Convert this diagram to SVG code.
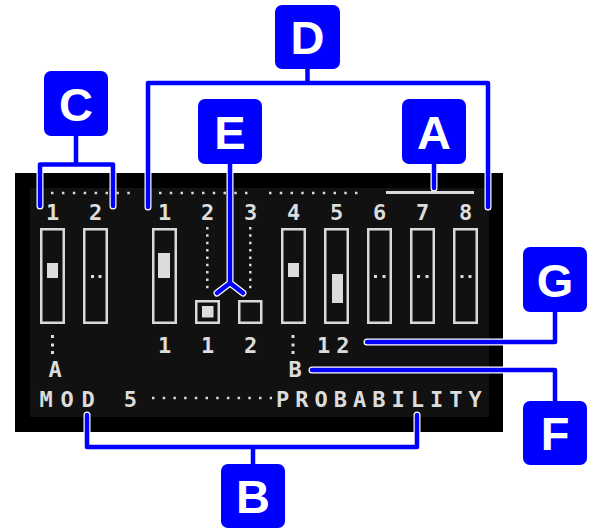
<svg xmlns="http://www.w3.org/2000/svg" width="589" height="529" viewBox="0 0 589 529">
<style>
.txt{fill:#dcdcdc;font-family:"DejaVu Sans Mono","Liberation Mono",monospace;font-weight:bold;font-size:22px}
.mid{text-anchor:middle}
.sl{fill:none;stroke:#d9d9d9;stroke-width:2.5}
.fill{fill:#dcdcdc}
.dots{stroke:#d9d9d9;stroke-width:2.5;fill:none}
.box{fill:#0000ff}
.lt{fill:#fff;font-family:"Liberation Sans",Arial,sans-serif;font-weight:bold;font-size:47px;text-anchor:middle}
.halo{fill:none;stroke:#fff;stroke-width:7;stroke-linecap:round;stroke-linejoin:round}
.wire{fill:none;stroke:#0000ff;stroke-width:4.5;stroke-linecap:round;stroke-linejoin:round}
</style>
<rect width="589" height="529" fill="#fff"/>
<g id="screen">
<rect x="15" y="173" width="488" height="259" fill="#000"/>
<rect x="30" y="188" width="459" height="229" fill="#111"/>
<line class="dots" x1="51" y1="193" x2="131" y2="193" stroke-dasharray="2.5 8.4"/>
<line class="dots" x1="159" y1="193" x2="249" y2="193" stroke-dasharray="2.5 8.25"/>
<line class="dots" x1="269" y1="193" x2="359" y2="193" stroke-dasharray="2.5 8.25"/>
<line x1="386" y1="192.5" x2="474" y2="192.5" stroke="#d9d9d9" stroke-width="2.8"/>
<g class="txt mid">
<text x="52.5" y="220">1</text><text x="95.5" y="220">2</text>
<text x="164.5" y="220">1</text><text x="207.5" y="220">2</text><text x="250.5" y="220">3</text>
<text x="293.5" y="220">4</text><text x="336.5" y="220">5</text><text x="379.5" y="220">6</text>
<text x="422.5" y="220">7</text><text x="465.5" y="220">8</text>
</g>
</g>
<g id="slider-c1"><rect class="sl" x="41.25" y="229.25" width="22.5" height="93.5"/><rect class="fill" x="47" y="263" width="11" height="15"/></g>
<g id="slider-c2"><rect class="sl" x="84.25" y="229.25" width="22.5" height="93.5"/><rect class="fill" x="91" y="275" width="3" height="3"/><rect class="fill" x="98.5" y="275" width="3" height="3"/></g>
<g id="slider-d1"><rect class="sl" x="153.25" y="229.25" width="22.5" height="93.5"/><rect class="fill" x="158" y="253" width="12" height="25"/></g>
<g id="step-d2"><line class="dots" x1="207.3" y1="227" x2="207.3" y2="290" stroke-dasharray="2.5 4.85"/><rect class="sl" x="196.25" y="301.25" width="22.5" height="21.5"/><rect class="fill" x="202" y="306" width="11.5" height="11.5"/></g>
<g id="step-d3"><line class="dots" x1="250.3" y1="227" x2="250.3" y2="290" stroke-dasharray="2.5 4.85"/><rect class="sl" x="239.25" y="301.25" width="22" height="21.5"/></g>
<g id="slider-4"><rect class="sl" x="282.25" y="229.25" width="22.5" height="93.5"/><rect class="fill" x="288" y="263" width="11" height="14"/></g>
<g id="slider-5"><rect class="sl" x="325.25" y="229.25" width="22.5" height="93.5"/><rect class="fill" x="332" y="274" width="11" height="29"/></g>
<g id="slider-6"><rect class="sl" x="368.25" y="229.25" width="22.5" height="93.5"/><rect class="fill" x="374" y="275" width="3" height="3"/><rect class="fill" x="382.5" y="275" width="3" height="3"/></g>
<g id="slider-7"><rect class="sl" x="411.25" y="229.25" width="22.5" height="93.5"/><rect class="fill" x="417" y="275" width="3" height="3"/><rect class="fill" x="425.5" y="275" width="3" height="3"/></g>
<g id="slider-8"><rect class="sl" x="454.25" y="229.25" width="22.5" height="93.5"/><rect class="fill" x="460.5" y="275" width="3" height="3"/><rect class="fill" x="468.5" y="275" width="3" height="3"/></g>
<g id="values">
<rect class="fill" x="51" y="335" width="3" height="3"/><rect class="fill" x="51" y="343.5" width="3" height="3"/><rect class="fill" x="51" y="351" width="3" height="3"/>
<rect class="fill" x="291.5" y="335" width="3" height="3"/><rect class="fill" x="291.5" y="343.5" width="3" height="3"/><rect class="fill" x="291.5" y="351" width="3" height="3"/>
<g class="txt">
<text class="mid" x="164.5" y="353">1</text><text class="mid" x="207.5" y="353">1</text><text class="mid" x="250.5" y="353">2</text>
<text x="317" y="353" letter-spacing="6">12</text>
<text class="mid" x="55" y="377">A</text><text class="mid" x="295" y="377">B</text>
<text x="39.5" y="406.5" letter-spacing="7.8">MOD 5</text>
<text x="276" y="406.5" letter-spacing="6">PROBABILITY</text>
</g>
<line class="dots" x1="152" y1="398" x2="272" y2="398" stroke-dasharray="2.5 8.2"/>
</g>
<g id="connectors">
<g class="halo">
<path d="M40,206 V164.5 H113 V206 M76,136 V164.5"/>
<path d="M148,207 V83 H488 V207 M307.5,69 V83"/>
<path d="M230,164 V283 M217,293 L230,283 L243,293"/>
<path d="M434,164 V188"/>
<path d="M555,312 V342 H367"/>
<path d="M555,401 V370 H312"/>
<path d="M87,415 V447 H417 V415 M253,464 V447"/>
</g>
<g class="wire">
<path d="M40,206 V164.5 H113 V206 M76,136 V164.5"/>
<path d="M148,207 V83 H488 V207 M307.5,69 V83"/>
<path d="M230,164 V283 M217,293 L230,283 L243,293"/>
<path d="M434,164 V188"/>
<path d="M555,312 V342 H367"/>
<path d="M555,401 V370 H312"/>
<path d="M87,415 V447 H417 V415 M253,464 V447"/>
</g>
</g>
<g id="label-C"><rect class="box" x="44" y="71" width="64" height="65" rx="7"/><text class="lt" x="76" y="120.5">C</text></g>
<g id="label-E"><rect class="box" x="198" y="99" width="64" height="65" rx="7"/><text class="lt" x="230" y="148.5">E</text></g>
<g id="label-D"><rect class="box" x="275" y="5" width="65" height="64" rx="7"/><text class="lt" x="307.5" y="54">D</text></g>
<g id="label-A"><rect class="box" x="402" y="99" width="64" height="65" rx="7"/><text class="lt" x="434" y="148.5">A</text></g>
<g id="label-G"><rect class="box" x="523" y="247" width="64" height="65" rx="7"/><text class="lt" x="555" y="296.5">G</text></g>
<g id="label-F"><rect class="box" x="523" y="401" width="64" height="64" rx="7"/><text class="lt" x="555" y="450">F</text></g>
<g id="label-B"><rect class="box" x="221" y="464" width="64" height="64" rx="7"/><text class="lt" x="253" y="513">B</text></g>
</svg>
